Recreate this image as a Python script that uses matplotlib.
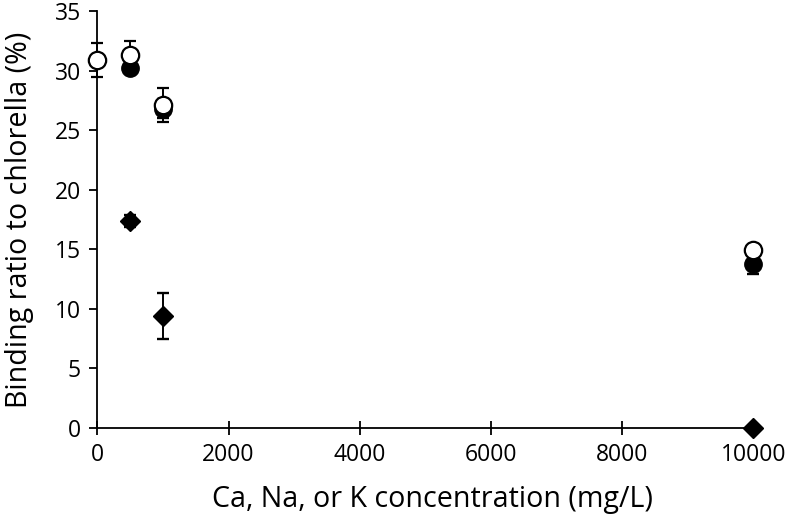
import matplotlib
matplotlib.use("Agg")
import matplotlib.pyplot as plt

plt.rcParams['font.family'] = ['Open Sans', 'DejaVu Sans']

# Data
open_x = [0, 500, 1000, 10000]
open_y = [30.9, 31.3, 27.1, 14.9]
open_err = [1.4, 1.2, 1.4, 0.3]

filled_x = [500, 1000, 10000]
filled_y = [30.2, 26.8, 13.8]
filled_err = [0.4, 0.8, 0.9]

diam_x = [500, 1000, 10000]
diam_y = [17.4, 9.4, 0.0]
diam_err = [0.5, 1.9, 0.0]

xticks = [0, 2000, 4000, 6000, 8000, 10000]
yticks = [0, 5, 10, 15, 20, 25, 30, 35]

fig = plt.figure(figsize=(7.92, 5.22), dpi=100)
ax = fig.add_axes([0.123, 0.180, 0.828, 0.799])

ekw = dict(ecolor='black', elinewidth=1.4, capsize=4.2, capthick=1.7)
ax.errorbar(diam_x, diam_y, yerr=diam_err, fmt='D', color='black',
            markersize=10, mfc='black', mec='black', zorder=3, **ekw)
ax.errorbar(filled_x, filled_y, yerr=filled_err, fmt='o', color='black',
            markersize=12.5, mfc='black', mec='black', zorder=4, **ekw)
ax.errorbar(open_x, open_y, yerr=open_err, fmt='o', color='black',
            markersize=12.5, mfc='white', mec='black', mew=1.6, zorder=5, **ekw)

ax.set_xlim(0, 10000)
ax.set_ylim(0, 35)
ax.set_xticks(xticks)
ax.set_yticks(yticks)
ax.spines['top'].set_visible(False)
ax.spines['right'].set_visible(False)
ax.spines['left'].set_linewidth(1.3)
ax.spines['bottom'].set_linewidth(1.3)
ax.tick_params(axis='x', direction='inout', length=10, width=1.3, labelsize=16.5, pad=6)
ax.tick_params(axis='y', direction='out', length=6, width=1.3, labelsize=16.5, pad=6)

ax.set_xlabel('Ca, Na, or K concentration (mg/L)', fontsize=20.6)
ax.xaxis.set_label_coords(0.511, -0.137)
ax.set_ylabel('Binding ratio to chlorella (%)', fontsize=20.6, labelpad=15)

for art in ax.get_children():
    try:
        art.set_clip_on(False)
    except Exception:
        pass

fig.savefig('out.png', dpi=100)
